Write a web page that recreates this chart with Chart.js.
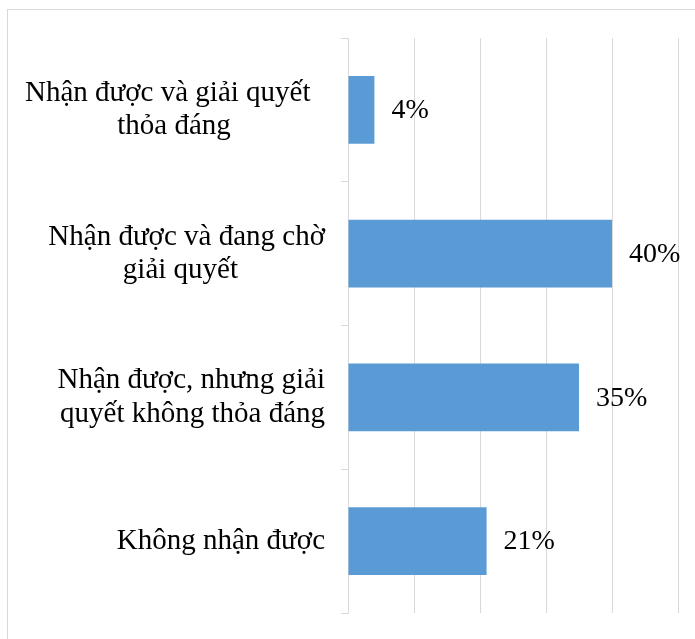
<!DOCTYPE html>
<html>
<head>
<meta charset="utf-8">
<script src="https://cdn.jsdelivr.net/npm/chart.js@4.4.1/dist/chart.umd.min.js"></script>
<style>
    html, body { margin: 0; padding: 0; background: #ffffff; overflow: hidden; }
    canvas { display: block; }
</style>
</head>
<body>
<canvas id="feedbackChart" width="695" height="639"></canvas>
<script>
// Trailing no-break spaces keep the shorter wrapped lines where they sit in the block
var NB = '\u00a0';

var categories = [
    [ 'Nhận được và giải quyết' + NB.repeat( 2 ), 'thỏa đáng' + NB.repeat( 13 ) ],
    [ 'Nhận được và đang chờ', 'giải quyết' + NB.repeat( 12 ) ],
    [ 'Nhận được, nhưng giải', 'quyết không thỏa đáng' ],
    [ 'Không nhận được' ]
];
var percentValues = [ 4, 40, 35, 21 ];
var axisMax = 50;
var axisStep = 10;

document.addEventListener( 'DOMContentLoaded', function ()
{
    Chart.defaults.font.family = "'Liberation Serif', 'Times New Roman', serif";
    Chart.defaults.color = '#000000';

    // Light grey frame around the whole chart
    var framePlugin = {
        id: 'frame',
        beforeDraw: function ( chart )
        {
            var ctx = chart.ctx;
            ctx.save();
            ctx.strokeStyle = '#d9d9d9';
            ctx.lineWidth = 1;
            ctx.strokeRect( 7.5, 9.5, 720, 720 );
            ctx.restore();
        }
    };

    // Percentage written just past the end of every bar
    var valueLabelPlugin = {
        id: 'valueLabels',
        afterDatasetsDraw: function ( chart )
        {
            var ctx = chart.ctx;
            var meta = chart.getDatasetMeta( 0 );
            ctx.save();
            ctx.font = "28px 'Liberation Serif', 'Times New Roman', serif";
            ctx.fillStyle = '#000000';
            ctx.textAlign = 'left';
            ctx.textBaseline = 'middle';
            meta.data.forEach( function ( bar, i )
            {
                ctx.fillText( percentValues[ i ] + '%', bar.x + 17, bar.y + 1 );
            } );
            ctx.restore();
        }
    };

    var canvas = document.getElementById( 'feedbackChart' );

    new Chart( canvas.getContext( '2d' ), {
        type: 'bar',
        data: {
            labels: categories,
            datasets: [ {
                data: percentValues,
                backgroundColor: '#5b9bd5',
                borderWidth: 0,
                categoryPercentage: 1,
                barPercentage: 0.47
            } ]
        },
        options: {
            indexAxis: 'y',
            responsive: false,
            animation: false,
            layout: {
                padding: { left: 0, top: 38, right: 17, bottom: 26 }
            },
            plugins: {
                legend: { display: false },
                tooltip: { enabled: false }
            },
            scales: {
                x: {
                    min: 0,
                    max: axisMax,
                    ticks: { display: false, stepSize: axisStep },
                    grid: { color: '#d9d9d9', lineWidth: 1, drawTicks: false },
                    border: { display: false }
                },
                y: {
                    afterFit: function ( scale )
                    {
                        // fixed label column, no extra room reserved for label overhang
                        scale.width = 348;
                        scale.paddingTop = 0;
                        scale.paddingBottom = 0;
                    },
                    ticks: {
                        padding: 16,
                        font: { size: 29, lineHeight: 1.15 },
                        color: '#000000'
                    },
                    grid: {
                        drawOnChartArea: false,
                        drawTicks: true,
                        tickLength: 7,
                        color: '#d9d9d9',
                        offset: true
                    },
                    border: { display: true, color: '#d9d9d9' }
                }
            }
        },
        plugins: [ framePlugin, valueLabelPlugin ]
    } );
} );
</script>
</body>
</html>
